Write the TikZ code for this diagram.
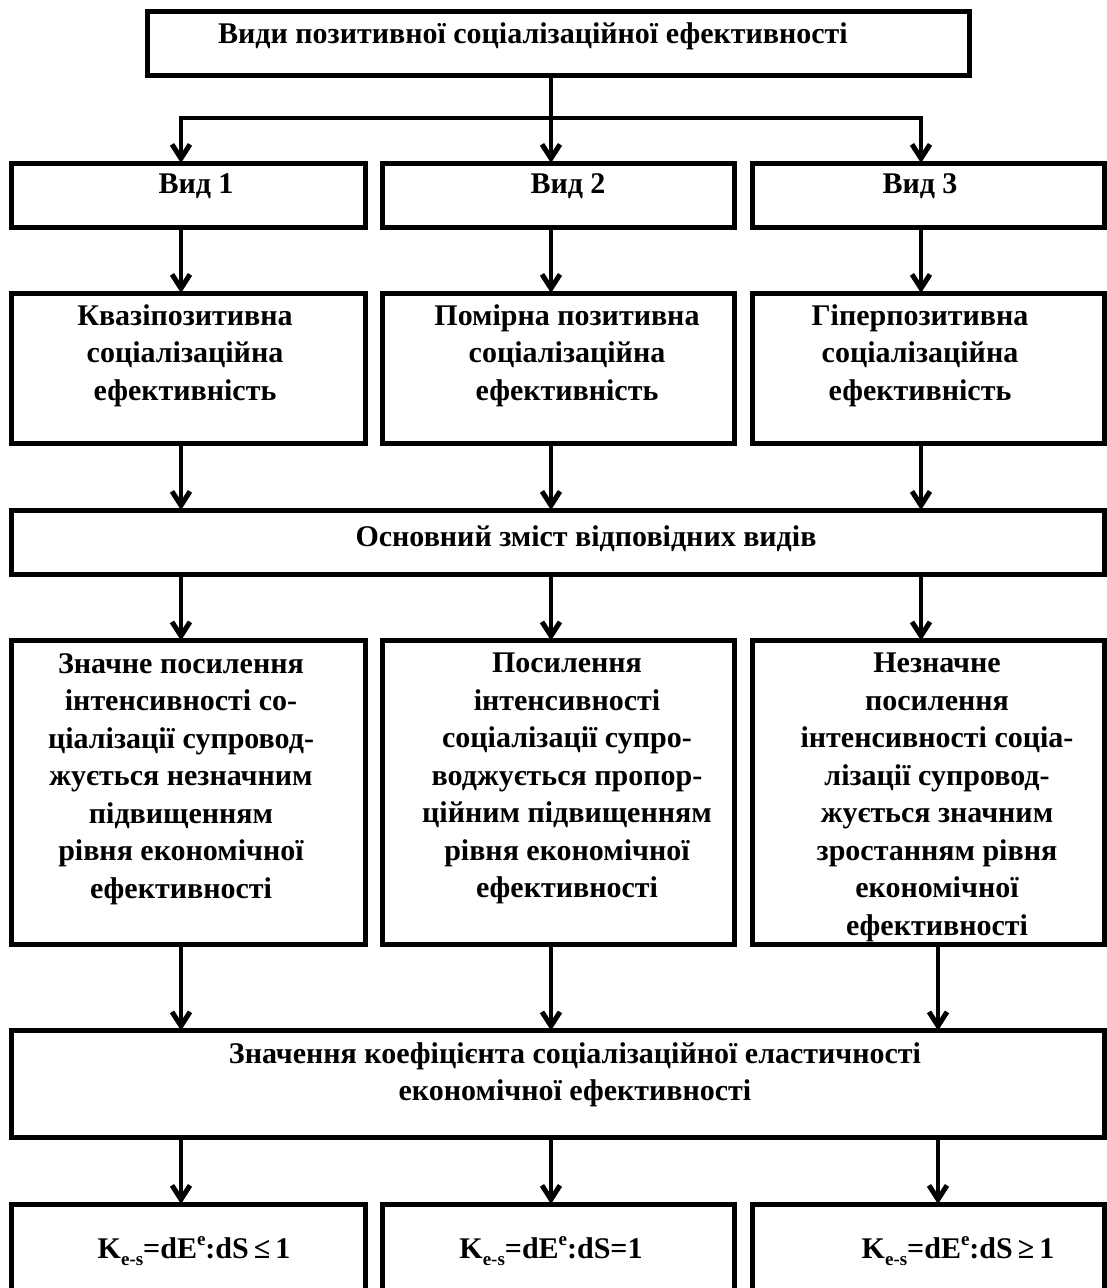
\documentclass[tikz,border=0pt]{standalone}
\usepackage{fontspec}
\setmainfont{Liberation Serif}
\usetikzlibrary{arrows.meta,fit,calc}
\newcommand{\mysub}[1]{\raisebox{-0.24em}{\fontsize{19}{19}\selectfont #1}}
\newcommand{\mysup}[1]{\raisebox{0.42em}{\fontsize{19}{19}\selectfont #1}}
\begin{document}
\begin{tikzpicture}[x=1pt,y=-1pt,
  box/.style={draw,line width=5pt,inner sep=0pt,outer sep=0pt,rectangle},
  txt/.style={font=\fontsize{30}{37.5}\selectfont\bfseries,align=center,inner sep=0pt,anchor=north},
  conn/.style={line width=3.5pt},
  arr/.style={line width=3.5pt,-{Straight Barb[length=14pt,width=18pt,line width=5pt]}}]
\useasboundingbox (0,0) rectangle (1107,1288);
\clip (0,0) rectangle (1107,1288);
% columns
\coordinate (c1) at (181,0);
\coordinate (c2) at (551,0);
\coordinate (c3) at (921,0);
\coordinate (c3b) at (938,0);
% boxes
\node[box,fit={(147.5,11.5) (969.5,75.5)}] (top) {};
\node[box,fit={(11.5,163) (365,227.5)}] (v1) {};
\node[box,fit={(382.5,163) (734,227.5)}] (v2) {};
\node[box,fit={(752.5,163) (1104,227.5)}] (v3) {};
\node[box,fit={(11.5,293) (365,443)}] (q1) {};
\node[box,fit={(382.5,293) (734,443)}] (q2) {};
\node[box,fit={(752.5,293) (1104,443)}] (q3) {};
\node[box,fit={(11.5,510) (1104,574.5)}] (main) {};
\node[box,fit={(11.5,640.5) (365,944)}] (s1) {};
\node[box,fit={(382.5,640.5) (734,944)}] (s2) {};
\node[box,fit={(752.5,640.5) (1104,944)}] (s3) {};
\node[box,fit={(11.5,1030.5) (1104,1137.5)}] (coef) {};
\node[box,fit={(11.5,1204) (365,1330)}] (k1) {};
\node[box,fit={(382.5,1204) (734,1330)}] (k2) {};
\node[box,fit={(752.5,1204) (1104,1330)}] (k3) {};
% texts
\node[txt] (ttop) at (533,22) {Види позитивної соціалізаційної ефективності};
\node[txt] (tv1) at (196,173) {Вид 1};
\node[txt] (tv2) at (568,173) {Вид 2};
\node[txt] (tv3) at (920,173) {Вид 3};
\node[txt] (tq1) at (185,304) {Квазіпозитивна\\соціалізаційна\\ефективність};
\node[txt] (tq2) at (567,304) {Помірна позитивна\\соціалізаційна\\ефективність};
\node[txt] (tq3) at (920,304) {Гіперпозитивна\\соціалізаційна\\ефективність};
\node[txt] (tmain) at (586,525) {Основний зміст відповідних видів};
\node[txt] (ts1) at (181,653) {Значне посилення\\інтенсивності со-\\ціалізації супровод-\\жується незначним\\підвищенням\\рівня економічної\\ефективності};
\node[txt] (ts2) at (567,653) {Посилення\\інтенсивності\\соціалізації супро-\\воджується пропор-\\ційним підвищенням\\рівня економічної\\ефективності};
\node[txt] (ts3) at (937,653) {Незначне\\посилення\\інтенсивності соціа-\\лізації супровод-\\жується значним\\зростанням рівня\\економічної\\ефективності};
\node[txt] (tcoef) at (575,1042) {Значення коефіцієнта соціалізаційної еластичності\\економічної ефективності};
\node[txt,anchor=base] (tk1) at (194,1258) {K\mysub{e-s}=dE\mysup{e}:dS\,≤\,1};
\node[txt,anchor=base] (tk2) at (551,1258) {K\mysub{e-s}=dE\mysup{e}:dS=1};
\node[txt,anchor=base] (tk3) at (958,1258) {K\mysub{e-s}=dE\mysup{e}:dS\,≥\,1};
% connectors
\coordinate (jm) at (c2 |- 0,118);
\coordinate (jl) at (c1 |- 0,118);
\coordinate (jr) at (c3 |- 0,118);
\draw[conn] (c2 |- top.south) -- (jm);
\draw[conn] ([xshift=-1.75pt]jl) -- ([xshift=1.75pt]jr);
\draw[arr] (jl) -- (c1 |- v1.north);
\draw[arr] (jm) -- (c2 |- v2.north);
\draw[arr] (jr) -- (c3 |- v3.north);
\draw[arr] (c1 |- v1.south) -- (c1 |- q1.north);
\draw[arr] (c2 |- v2.south) -- (c2 |- q2.north);
\draw[arr] (c3 |- v3.south) -- (c3 |- q3.north);
\draw[arr] (c1 |- q1.south) -- (c1 |- main.north);
\draw[arr] (c2 |- q2.south) -- (c2 |- main.north);
\draw[arr] (c3 |- q3.south) -- (c3 |- main.north);
\draw[arr] (c1 |- main.south) -- (c1 |- s1.north);
\draw[arr] (c2 |- main.south) -- (c2 |- s2.north);
\draw[arr] (c3 |- main.south) -- (c3 |- s3.north);
\draw[arr] (c1 |- s1.south) -- (c1 |- coef.north);
\draw[arr] (c2 |- s2.south) -- (c2 |- coef.north);
\draw[arr] (c3b |- s3.south) -- (c3b |- coef.north);
\draw[arr] (c1 |- coef.south) -- (c1 |- k1.north);
\draw[arr] (c2 |- coef.south) -- (c2 |- k2.north);
\draw[arr] (c3b |- coef.south) -- (c3b |- k3.north);
\end{tikzpicture}
\end{document}
